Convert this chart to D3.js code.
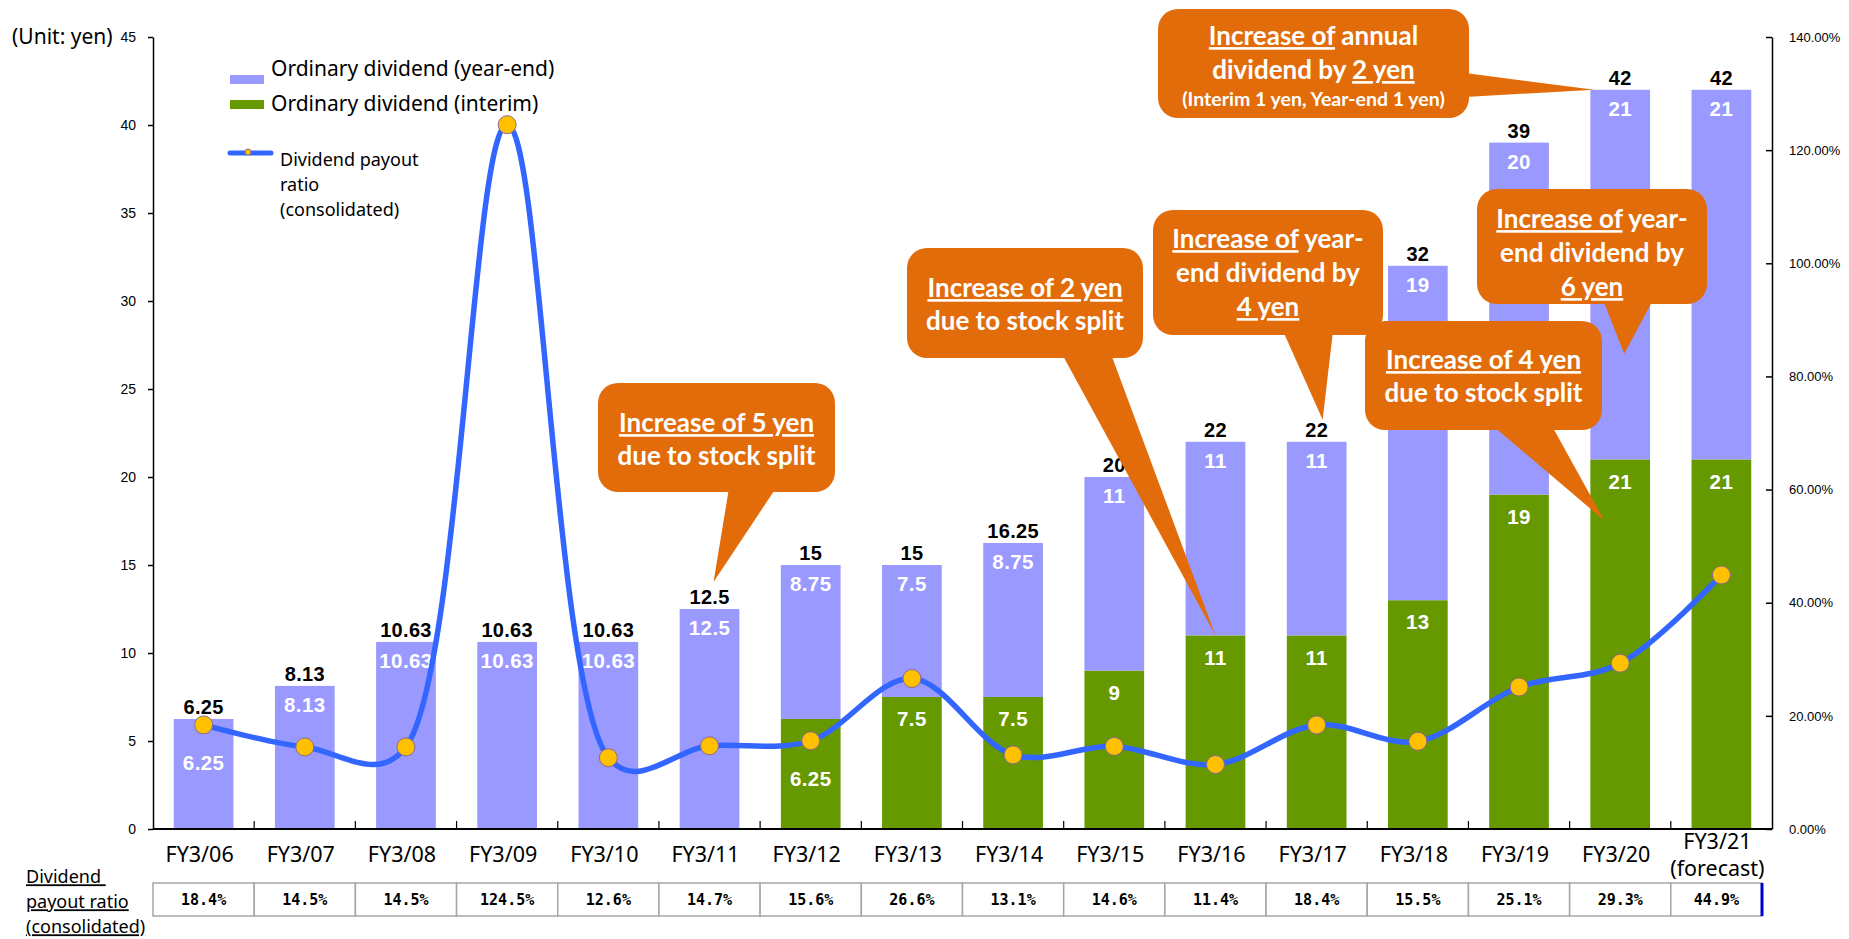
<!DOCTYPE html>
<html>
<head>
<meta charset="utf-8">
<script src="https://cdn.jsdelivr.net/npm/d3@7"></script>
<style>
  body { margin: 0; background: #fff; }
  svg { display: block; }
</style>
</head>
<body>
<svg width="1849" height="939"></svg>
<script>
// ---- data ----
const categories = ['FY3/06', 'FY3/07', 'FY3/08', 'FY3/09', 'FY3/10', 'FY3/11', 'FY3/12', 'FY3/13',
  'FY3/14', 'FY3/15', 'FY3/16', 'FY3/17', 'FY3/18', 'FY3/19', 'FY3/20', 'FY3/21']
const yearEnd = [6.25, 8.13, 10.63, 10.63, 10.63, 12.5, 8.75, 7.5, 8.75, 11, 11, 11, 19, 20, 21, 21]
const interim = [0, 0, 0, 0, 0, 0, 6.25, 7.5, 7.5, 9, 11, 11, 13, 19, 21, 21]
const totals = [6.25, 8.13, 10.63, 10.63, 10.63, 12.5, 15, 15, 16.25, 20, 22, 22, 32, 39, 42, 42]
const payout = [18.4, 14.5, 14.5, 124.5, 12.6, 14.7, 15.6, 26.6, 13.1, 14.6, 11.4, 18.4, 15.5, 25.1, 29.3, 44.9]
const yenTicks = [0, 5, 10, 15, 20, 25, 30, 35, 40, 45]
const ratioTicks = [0, 20, 40, 60, 80, 100, 120, 140]

// colours
const PURPLE = '#9999ff', GREEN = '#669900', BLUE = '#3366ff', GOLD = '#ffc000', ORANGE = '#e36c0a'

const svg = d3.select('svg'),
  width = +svg.attr('width'),
  height = +svg.attr('height')

const plotLeft = 153, plotRight = 1772, plotTop = 37, base = 829

const x = d3.scaleBand().domain(categories).range([plotLeft, plotRight]).paddingInner(0.41).paddingOuter(0.205)
const y = d3.scaleLinear().domain([0, 45]).range([base, plotTop])
const y2 = d3.scaleLinear().domain([0, 140]).range([base, plotTop])

const rows = categories.map((c, i) => ({
  cat: c, ye: yearEnd[i], it: interim[i], total: totals[i], ratio: payout[i]
}))

// ---- axes ----
const gL = svg.append('g').attr('transform', `translate(${plotLeft},0)`)
  .call(d3.axisLeft(y).tickValues(yenTicks).tickSizeInner(5).tickSizeOuter(0).tickPadding(12))
gL.selectAll('text').attr('font-family', 'Liberation Sans, Arial').attr('font-size', 14).attr('fill', '#000')

const gR = svg.append('g').attr('transform', `translate(${plotRight},0)`)
  .call(d3.axisRight(y2).tickValues(ratioTicks).tickSizeInner(-6).tickSizeOuter(0).tickPadding(17)
    .tickFormat(d => d.toFixed(2) + '%'))
gR.selectAll('text').attr('font-family', 'Liberation Sans, Arial').attr('font-size', 13).attr('fill', '#000')

svg.selectAll('.domain, .tick line').attr('stroke', '#000').attr('stroke-width', 1.5)

svg.append('text').attr('x', 12).attr('y', plotTop).attr('dy', '0.35em')
  .attr('font-family', 'Noto Sans').attr('font-size', 21).text('(Unit: yen)')

// ---- bars ----
const bw = x.bandwidth()
const barG = svg.append('g')
barG.selectAll('rect.it').data(rows.filter(d => d.it > 0)).join('rect')
  .attr('x', d => x(d.cat)).attr('width', bw)
  .attr('y', d => y(d.it)).attr('height', d => base - y(d.it))
  .attr('fill', GREEN)
barG.selectAll('rect.ye').data(rows).join('rect')
  .attr('x', d => x(d.cat)).attr('width', bw)
  .attr('y', d => y(d.total)).attr('height', d => y(d.it) - y(d.total))
  .attr('fill', PURPLE)

// baseline + category ticks
svg.append('line').attr('x1', plotLeft).attr('x2', plotRight).attr('y1', base).attr('y2', base)
  .attr('stroke', '#000').attr('stroke-width', 1.8)
svg.append('g').selectAll('line').data(d3.range(1, categories.length)).join('line')
  .attr('x1', i => plotLeft + i * x.step()).attr('x2', i => plotLeft + i * x.step())
  .attr('y1', base).attr('y2', base - 8).attr('stroke', '#000').attr('stroke-width', 1.2)

// category labels
const catG = svg.append('g').attr('font-family', 'Noto Sans').attr('font-size', 21.5).attr('text-anchor', 'middle')
rows.forEach((d, i) => {
  const cx = x(d.cat) + bw / 2 - 4
  if (i === rows.length - 1) {
    catG.append('text').attr('x', cx).attr('y', 841).attr('dy', '0.35em').text(d.cat)
    catG.append('text').attr('x', cx).attr('y', 868).attr('dy', '0.35em').text('(forecast)')
  } else {
    catG.append('text').attr('x', cx).attr('y', 854).attr('dy', '0.35em').text(d.cat)
  }
})

// ---- value labels ----
const markerY = d => y2(d.ratio)
const lblG = svg.append('g').attr('font-family', 'Liberation Sans, Arial').attr('font-weight', 'bold')
  .attr('text-anchor', 'middle')

rows.forEach(d => {
  const cx = x(d.cat) + bw / 2
  lblG.append('text').attr('x', cx).attr('y', y(d.total) - 12).attr('dy', '0.35em')
    .attr('font-size', 20).attr('letter-spacing', 0.3).attr('fill', '#000').text(d.total)
  let ly = y(d.total) + 19
  if (Math.abs(ly - markerY(d)) < 24) ly = markerY(d) + 38
  lblG.append('text').attr('x', cx).attr('y', ly).attr('dy', '0.35em').attr('font-size', 20.5)
    .attr('letter-spacing', 0.4).attr('fill', '#fff').text(d.ye)
  if (d.it > 0) {
    let iy = y(d.it) + 22
    if (Math.abs(iy - markerY(d)) < 24) iy = markerY(d) + 38
    lblG.append('text').attr('x', cx).attr('y', iy).attr('dy', '0.35em').attr('font-size', 20.5)
      .attr('letter-spacing', 0.4).attr('fill', '#fff').text(d.it)
  }
})

// ---- payout ratio line ----
const line = d3.line()
  .x(d => x(d.cat) + bw / 2)
  .y(d => y2(d.ratio))
  .curve(d3.curveCatmullRom.alpha(0.35))
svg.append('path').datum(rows).attr('d', line)
  .attr('fill', 'none').attr('stroke', BLUE).attr('stroke-width', 5.5)
svg.append('g').selectAll('circle').data(rows).join('circle')
  .attr('cx', d => x(d.cat) + bw / 2).attr('cy', d => y2(d.ratio)).attr('r', 9)
  .attr('fill', GOLD).attr('stroke', '#8a6a8a').attr('stroke-width', 1)

// ---- legend ----
const lg = svg.append('g').attr('font-family', 'Noto Sans').attr('fill', '#000')
lg.append('rect').attr('x', 230).attr('y', 75).attr('width', 34).attr('height', 9).attr('fill', PURPLE)
lg.append('text').attr('x', 271).attr('y', 69).attr('dy', '0.35em').attr('font-size', 21).text('Ordinary dividend (year-end)')
lg.append('rect').attr('x', 230).attr('y', 100).attr('width', 34).attr('height', 9).attr('fill', GREEN)
lg.append('text').attr('x', 271).attr('y', 104).attr('dy', '0.35em').attr('font-size', 21).text('Ordinary dividend (interim)')
lg.append('line').attr('x1', 230).attr('x2', 271).attr('y1', 153).attr('y2', 153)
  .attr('stroke', BLUE).attr('stroke-width', 5).attr('stroke-linecap', 'round')
lg.append('circle').attr('cx', 248).attr('cy', 152).attr('r', 3).attr('fill', GOLD).attr('stroke', '#8a6a8a')
;['Dividend payout', 'ratio', '(consolidated)'].forEach((t, i) => {
  lg.append('text').attr('x', 280).attr('y', 160 + i * 25).attr('dy', '0.35em').attr('font-size', 18).text(t)
})

// ---- payout table ----
const tTop = 883, tBot = 916, tRight = 1762
const tg = svg.append('g')
rows.forEach((d, i) => {
  const x0 = plotLeft + i * x.step()
  const x1 = Math.min(x0 + x.step(), tRight)
  tg.append('rect').attr('x', x0).attr('y', tTop).attr('width', x1 - x0).attr('height', tBot - tTop)
    .attr('fill', '#fff').attr('stroke', '#a6a6a6').attr('stroke-width', 1.5)
  tg.append('text').attr('x', (x0 + x1) / 2).attr('y', (tTop + tBot) / 2).attr('dy', '0.35em')
    .attr('text-anchor', 'middle').attr('font-family', 'DejaVu Sans Mono').attr('font-weight', 'bold')
    .attr('font-size', 15).text(d.ratio.toFixed(1) + '%')
})
tg.append('line').attr('x1', tRight).attr('x2', tRight).attr('y1', tTop).attr('y2', tBot)
  .attr('stroke', '#0000cc').attr('stroke-width', 3)
;['Dividend\u00a0', 'payout ratio', '(consolidated)'].forEach((t, i) => {
  svg.append('text').attr('x', 26).attr('y', 877 + i * 25).attr('dy', '0.35em')
    .attr('font-family', 'Noto Sans').attr('font-size', 18)
    .style('text-decoration', 'underline').text(t)
})

// ---- callouts ----
// box = [x, y, w, h]; base = two points where the pointer leaves the box
// tip anchored to a category / value through the scales
const callouts = [
  { box: [598, 383, 237, 109], base: [[729, 488], [776, 488]], cat: 'FY3/11', v: 12.5, dx: 4, dy: -27,
    ys: [423, 456], lines: [[['Increase of 5 yen', 1]], [['due to stock split', 0]]] },
  { box: [907, 248, 236, 110], base: [[1062, 354], [1111, 354]], cat: 'FY3/16', v: 11, dx: 0, dy: 0,
    ys: [288, 321], lines: [[['Increase of 2 yen', 1]], [['due to stock split', 0]]] },
  { box: [1153, 210, 230, 125], base: [[1283, 331], [1333, 331]], cat: 'FY3/17', v: 22, dx: 6, dy: -22,
    ys: [239, 273, 307], lines: [[['Increase of', 1], [' year-', 0]], [['end dividend by', 0]], [['4 yen', 1]]] },
  { box: [1365, 321, 237, 109], base: [[1493, 426], [1552, 426]], cat: 'FY3/20', v: 21, dx: -16, dy: 61,
    ys: [360, 393], lines: [[['Increase of 4 yen', 1]], [['due to stock split', 0]]] },
  { box: [1477, 189, 230, 115], base: [[1603, 300], [1653, 300]], cat: 'FY3/20', v: 27, dx: 4, dy: 0,
    ys: [219, 253, 287], lines: [[['Increase of', 1], [' year-', 0]], [['end dividend by', 0]], [['6 yen', 1]]] },
  { box: [1158, 9, 311, 109], base: [[1465, 73], [1465, 97]], cat: 'FY3/20', v: 42, dx: -26, dy: 0,
    ys: [36, 70, 99], sizes: [26, 26, 19.5],
    lines: [[['Increase of', 1], [' annual', 0]], [['dividend by ', 0], ['2 yen', 1]], [['(Interim 1 yen, Year-end 1 yen)', 0]]] }
]

const cg = svg.append('g')
callouts.forEach(c => {
  const [bx, by, bwid, bh] = c.box
  const tip = [x(c.cat) + bw / 2 + c.dx, y(c.v) + c.dy]
  cg.append('rect').attr('x', bx).attr('y', by).attr('width', bwid).attr('height', bh)
    .attr('rx', 20).attr('fill', ORANGE)
  cg.append('path').attr('d', d3.line()([c.base[0], tip, c.base[1]]) + 'Z').attr('fill', ORANGE)
  c.lines.forEach((ln, i) => {
    const t = cg.append('text').attr('x', bx + bwid / 2).attr('y', c.ys[i]).attr('dy', '0.35em')
      .attr('text-anchor', 'middle').attr('font-family', 'Lato, Noto Sans').attr('font-weight', 'bold')
      .attr('font-size', c.sizes ? c.sizes[i] : 26).attr('fill', '#fff')
    ln.forEach(([s, u]) => {
      const ts = t.append('tspan').text(s)
      if (u) ts.style('text-decoration', 'underline')
    })
  })
})
</script>
</body>
</html>
